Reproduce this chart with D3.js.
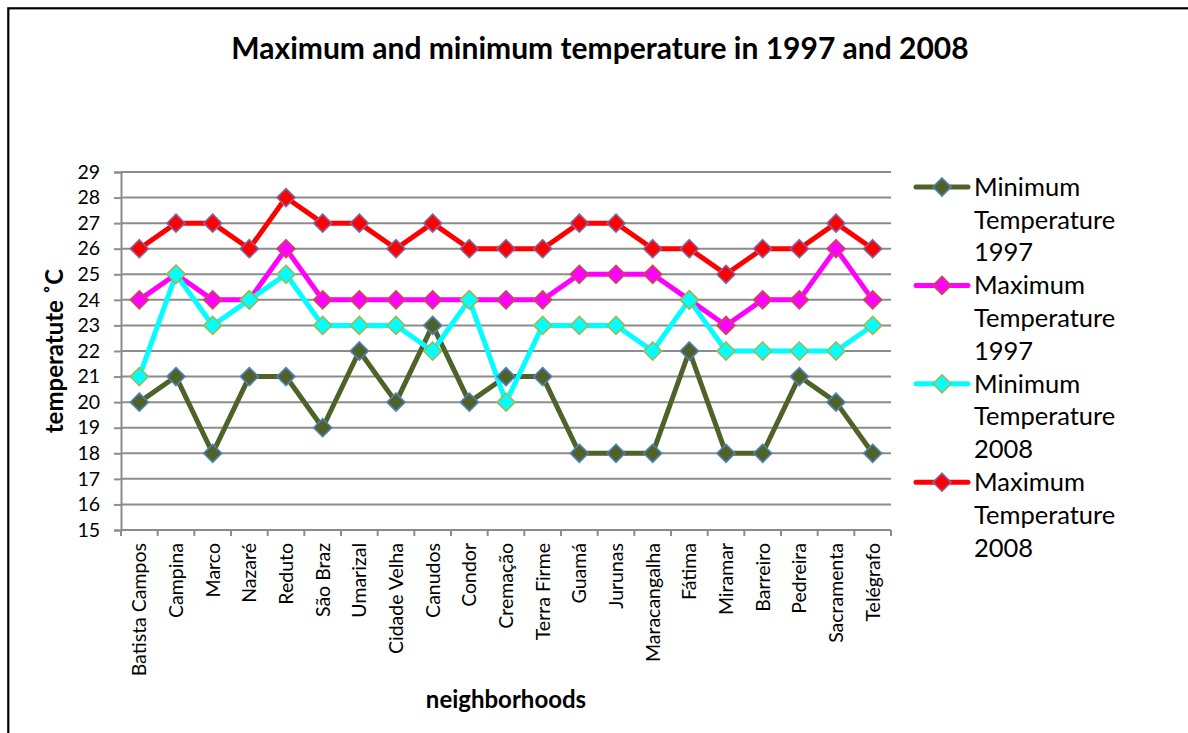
<!DOCTYPE html>
<html>
<head>
<meta charset="utf-8">
<script src="https://cdn.jsdelivr.net/npm/d3@7"></script>
<style>
  html, body { margin: 0; padding: 0; background: #fff; }
  svg { display: block; font-family: Lato, "Open Sans", sans-serif; }
</style>
</head>
<body>
<svg id="chart" width="1188" height="733"></svg>
<script>
// Neighborhoods of Belém and their temperature readings (°C)
const neighborhoods = ["Batista Campos", "Campina", "Marco", "Nazaré", "Reduto", "São Braz", "Umarizal",
  "Cidade Velha", "Canudos", "Condor", "Cremação", "Terra Firme", "Guamá", "Jurunas", "Maracangalha",
  "Fátima", "Miramar", "Barreiro", "Pedreira", "Sacramenta", "Telégrafo"];

const minTemp1997 = [20, 21, 18, 21, 21, 19, 22, 20, 23, 20, 21, 21, 18, 18, 18, 22, 18, 18, 21, 20, 18];
const maxTemp1997 = [24, 25, 24, 24, 26, 24, 24, 24, 24, 24, 24, 24, 25, 25, 25, 24, 23, 24, 24, 26, 24];
const minTemp2008 = [21, 25, 23, 24, 25, 23, 23, 23, 22, 24, 20, 23, 23, 23, 22, 24, 22, 22, 22, 22, 23];
const maxTemp2008 = [26, 27, 27, 26, 28, 27, 27, 26, 27, 26, 26, 26, 27, 27, 26, 26, 25, 26, 26, 27, 26];

const seriesNames = ["Minimum Temperature 1997", "Maximum Temperature 1997",
  "Minimum Temperature 2008", "Maximum Temperature 2008"];
const yTicks = [15, 16, 17, 18, 19, 20, 21, 22, 23, 24, 25, 26, 27, 28, 29];

const series = [
  { name: seriesNames[0], values: minTemp1997, line: "#4F6228", edge: "#4F81BD" },
  { name: seriesNames[1], values: maxTemp1997, line: "#FF00FF", edge: "#C0504D" },
  { name: seriesNames[2], values: minTemp2008, line: "#00FFFF", edge: "#9BBB59" },
  { name: seriesNames[3], values: maxTemp2008, line: "#FF0000", edge: "#8064A2" }
];

const svg = d3.select("#chart");
const plot = { left: 121, right: 891, top: 172, bottom: 530 };

// chart frame
svg.append("rect")
  .attr("x", 8.3).attr("y", 8.3)
  .attr("width", 1200).attr("height", 800)
  .attr("fill", "none").attr("stroke", "#000").attr("stroke-width", 2.2);

// title
svg.append("text")
  .attr("x", 600).attr("y", 59)
  .attr("text-anchor", "middle")
  .attr("font-weight", "bold").attr("font-size", 30)
  .text("Maximum and minimum temperature in 1997 and 2008");

const x = d3.scaleBand().domain(neighborhoods).range([plot.left, plot.right]);
const y = d3.scaleLinear().domain([15, 29]).range([plot.bottom, plot.top]);
const cx = d => x(d) + x.bandwidth() / 2;

// horizontal gridlines
svg.append("g")
  .selectAll("line").data(yTicks.filter(t => t > 15)).join("line")
  .attr("x1", plot.left).attr("x2", plot.right)
  .attr("y1", d => y(d)).attr("y2", d => y(d))
  .attr("stroke", "#8C8C8C").attr("stroke-width", 2);

// y axis
const yAxis = svg.append("g")
  .attr("transform", `translate(${plot.left},0)`)
  .call(d3.axisLeft(y).tickValues(yTicks).tickFormat(d3.format("d")).tickSize(7).tickPadding(14));
yAxis.select(".domain").attr("stroke", "#8C8C8C").attr("stroke-width", 2);
yAxis.selectAll(".tick line").attr("stroke", "#8C8C8C").attr("stroke-width", 2);
yAxis.selectAll(".tick text").attr("font-size", 19.5).attr("fill", "#000")
  .attr("font-family", "Lato, sans-serif");

// x axis with boundary ticks between categories
const xAxis = svg.append("g")
  .attr("transform", `translate(0,${plot.bottom})`);
xAxis.append("line")
  .attr("x1", plot.left).attr("x2", plot.right)
  .attr("stroke", "#8C8C8C").attr("stroke-width", 2);
const bounds = neighborhoods.map(d => x(d)).concat([plot.right]);
xAxis.selectAll("line.tk").data(bounds).join("line")
  .attr("class", "tk")
  .attr("x1", d => d).attr("x2", d => d)
  .attr("y1", 0).attr("y2", 6)
  .attr("stroke", "#8C8C8C").attr("stroke-width", 2);
xAxis.selectAll("text").data(neighborhoods).join("text")
  .attr("transform", d => `translate(${cx(d) + 7},13) rotate(-90)`)
  .attr("text-anchor", "end")
  .attr("font-size", 19.5)
  .text(d => d);

// axis titles
svg.append("text")
  .attr("transform", `translate(63,${(plot.top + plot.bottom) / 2}) rotate(-90)`)
  .attr("text-anchor", "middle")
  .attr("font-weight", "bold").attr("font-size", 24)
  .text("temperatute ˚C");
svg.append("text")
  .attr("x", (plot.left + plot.right) / 2).attr("y", 708)
  .attr("text-anchor", "middle")
  .attr("font-weight", "bold").attr("font-size", 24)
  .text("neighborhoods");

// lines first, markers on top
const diamond = "M0,-9L9,0L0,9L-9,0Z";
const line = d3.line().x((v, i) => cx(neighborhoods[i])).y(v => y(v));
svg.append("g").selectAll("path").data(series).join("path")
  .attr("d", s => line(s.values))
  .attr("fill", "none")
  .attr("stroke", s => s.line).attr("stroke-width", 5)
  .attr("stroke-linejoin", "round");
series.forEach(s => {
  svg.append("g").selectAll("path").data(s.values).join("path")
    .attr("d", diamond)
    .attr("transform", (v, i) => `translate(${cx(neighborhoods[i])},${y(v)})`)
    .attr("fill", s.line).attr("stroke", s.edge).attr("stroke-width", 1.6);
});

// legend
const legend = svg.append("g");
series.forEach((s, i) => {
  const g = legend.append("g").attr("transform", `translate(0,${187 + i * 98.4})`);
  g.append("line").attr("x1", 916).attr("x2", 968)
    .attr("stroke", s.line).attr("stroke-width", 5).attr("stroke-linecap", "round");
  g.append("path").attr("d", diamond).attr("transform", "translate(942,0)")
    .attr("fill", s.line).attr("stroke", s.edge).attr("stroke-width", 1.6);
  const words = s.name.split(" ");
  g.append("text").attr("font-size", 25.5)
    .selectAll("tspan").data(words).join("tspan")
    .attr("x", 974).attr("y", (w, k) => 9 + k * 32.7)
    .text(w => w);
});
</script>
</body>
</html>
